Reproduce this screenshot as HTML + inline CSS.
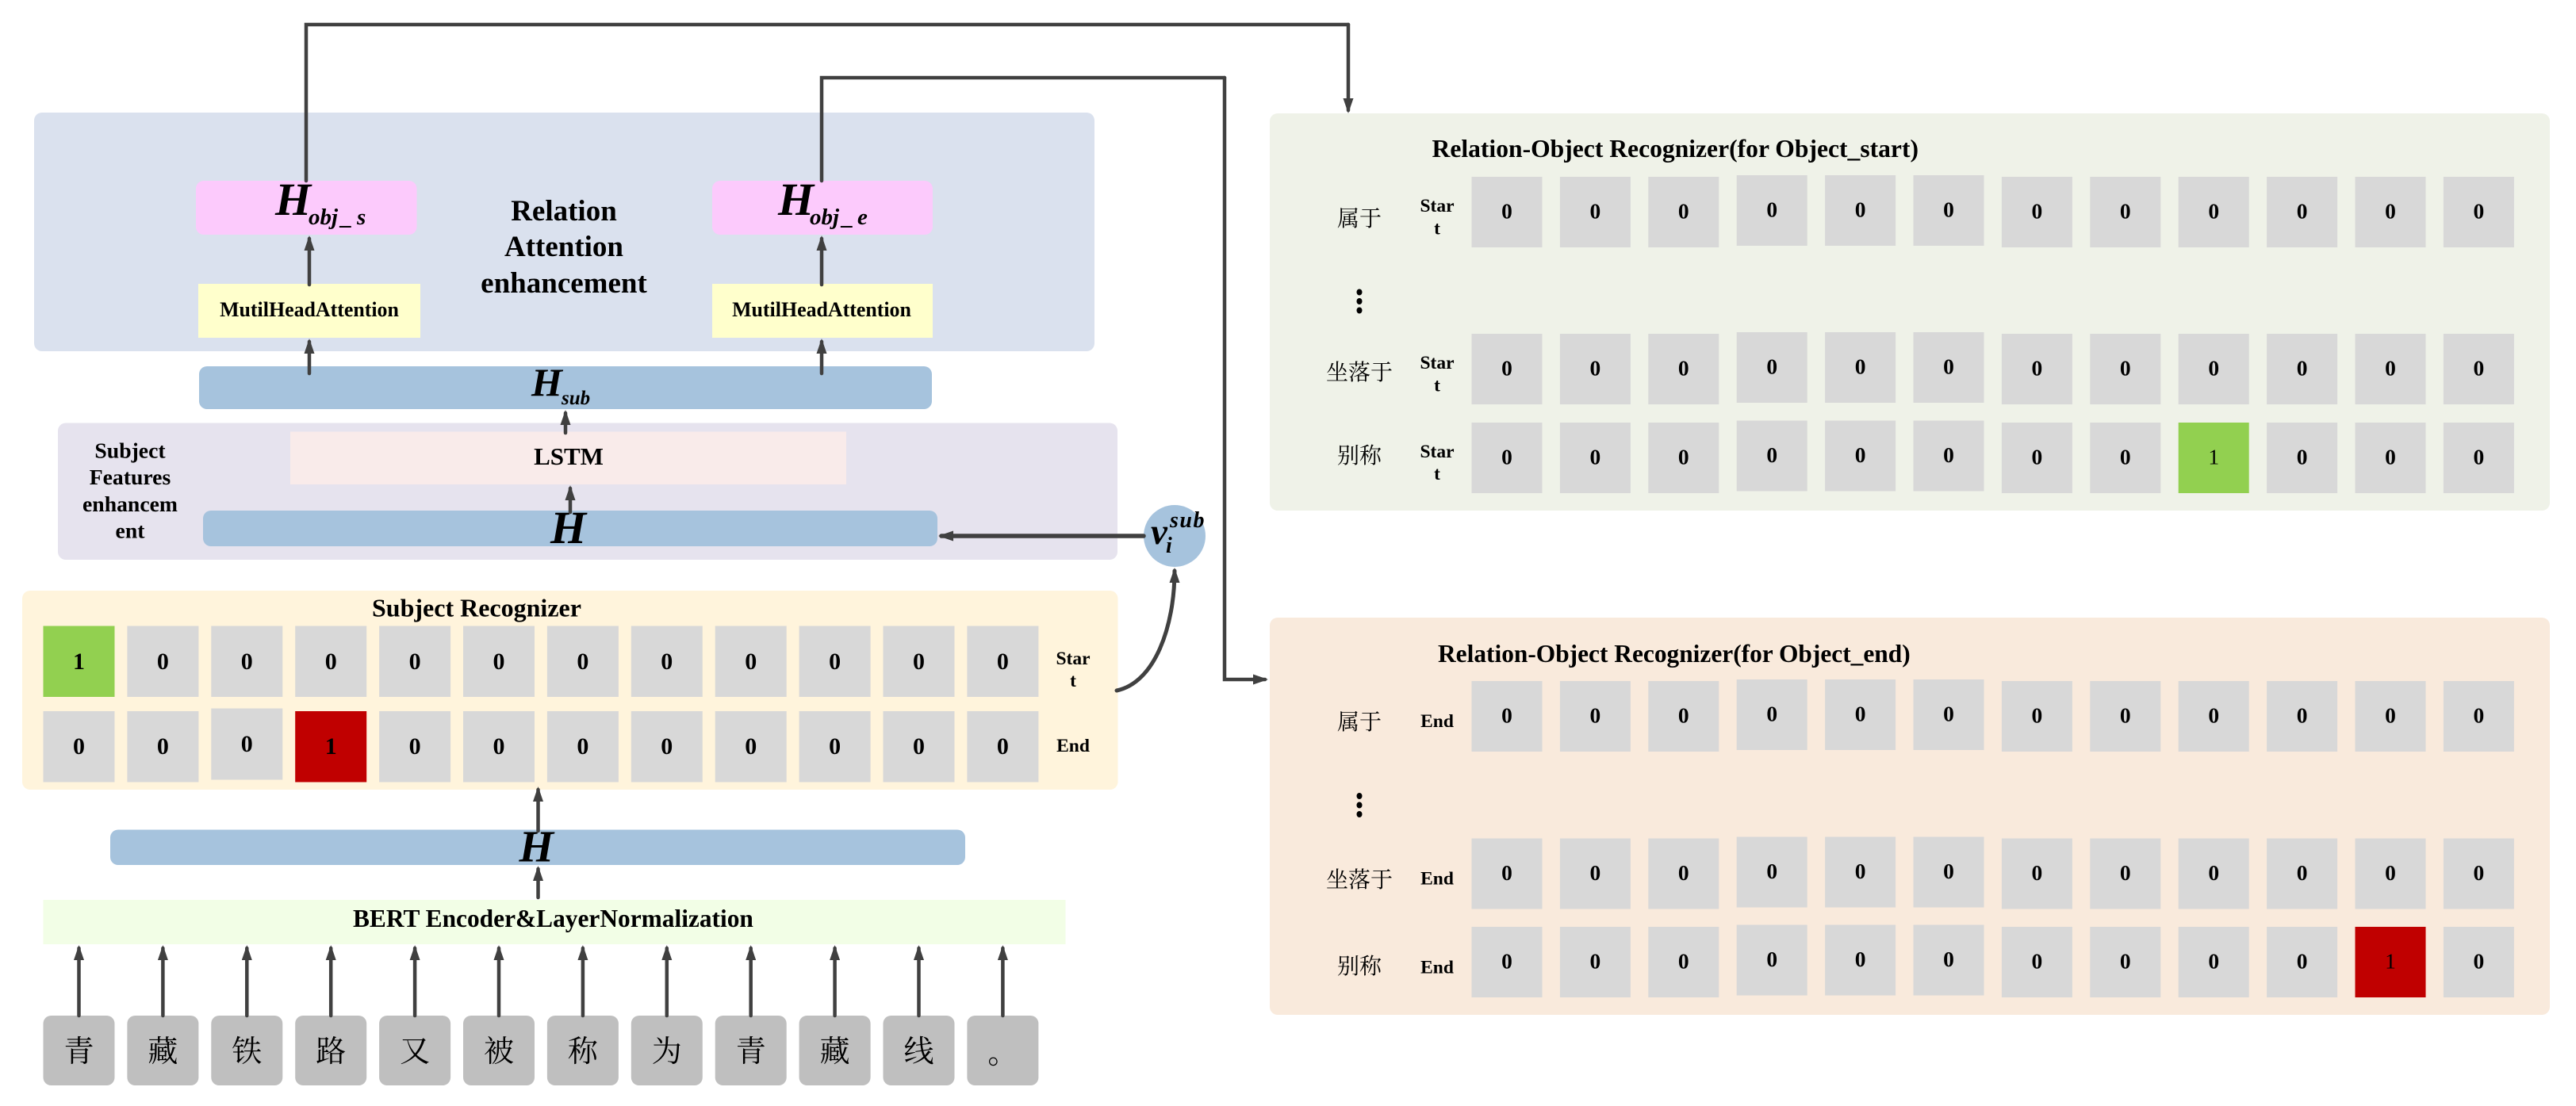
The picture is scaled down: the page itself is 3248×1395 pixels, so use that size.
<!DOCTYPE html>
<html lang="zh"><head><meta charset="utf-8"><title>Diagram</title>
<style>
html,body{margin:0;padding:0;background:#fff}
svg{display:block}
text{font-family:"Liberation Serif","Noto Serif CJK SC",serif;font-weight:bold;fill:#000}
.c{text-anchor:middle}
.z{font-size:27.5px;text-anchor:middle}
.y{font-size:30px;text-anchor:middle}
.l{font-size:23.5px;text-anchor:middle}
.t{font-size:31.4px}
.k{font-size:28px;font-weight:normal;text-anchor:middle;font-family:"Noto Serif CJK SC","Liberation Serif",serif}
.w{font-size:37px;text-anchor:middle}
.m{font-style:italic}
.tk{font-size:38px;font-weight:normal;text-anchor:middle;font-family:"Noto Serif CJK SC","Liberation Serif",serif}
.a{fill:none;stroke:#404040;stroke-width:4.5;stroke-linecap:round;stroke-linejoin:miter;marker-end:url(#ah)}
.cl{fill:#d8d8d8}
</style></head><body>
<svg xmlns="http://www.w3.org/2000/svg" width="3248" height="1395" viewBox="0 0 3248 1395">
<defs><marker id="ah" markerUnits="userSpaceOnUse" viewBox="0 0 19 13" refX="15" refY="6.5" markerWidth="19" markerHeight="13" orient="auto"><path d="M0 0L19 6.5L0 13z" fill="#404040"/></marker></defs>
<rect width="3248" height="1395" fill="#fff"/>

<!-- panels -->
<rect x="43" y="142" width="1337" height="301" rx="10" fill="#dae1ee"/>
<rect x="73" y="533.5" width="1336" height="172.5" rx="10" fill="#e6e3ee"/>
<rect x="28" y="745" width="1381.5" height="251" rx="10" fill="#fff4dc"/>
<rect x="1601" y="143" width="1614" height="501" rx="10" fill="#eff2e8"/>
<rect x="1601" y="779" width="1614" height="501" rx="10" fill="#f9eadc"/>

<!-- relation attention -->
<rect x="247" y="228" width="278.500" height="68" rx="10" fill="#fccafc"/>
<rect x="898" y="228" width="278" height="68" rx="10" fill="#fccafc"/>
<rect x="250" y="358" width="280" height="68" fill="#ffffcc"/>
<rect x="898" y="358" width="278" height="68" fill="#ffffcc"/>
<text class="m" font-size="58" x="347" y="271">H</text>
<text class="m" font-size="29" x="389" y="283">obj</text><text class="m" font-size="29" x="430" y="283">_</text><text class="m" font-size="29" x="450" y="283">s</text>
<text class="m" font-size="58" x="981" y="271">H</text>
<text class="m" font-size="29" x="1021" y="283">obj</text><text class="m" font-size="29" x="1062" y="283">_</text><text class="m" font-size="29" x="1081" y="283">e</text>
<text class="c" font-size="25.9" x="390" y="399">MutilHeadAttention</text>
<text class="c" font-size="25.9" x="1036" y="399">MutilHeadAttention</text>
<text class="w" x="711" y="278">Relation</text>
<text class="w" x="711" y="323">Attention</text>
<text class="w" x="711" y="369">enhancement</text>

<!-- H sub -->
<rect x="251" y="462" width="924" height="54" rx="10" fill="#a6c3dd"/>
<text class="m" font-size="50" x="670" y="499">H</text>
<text class="m" font-size="25" x="708" y="510">sub</text>

<!-- subject features -->
<rect x="366" y="544.500" width="701" height="66.500" fill="#f9ebea"/>
<text class="c" font-size="31" x="717" y="586">LSTM</text>
<rect x="256" y="644" width="926" height="45" rx="10" fill="#a6c3dd"/>
<text class="m" font-size="58" x="694" y="685">H</text>
<g font-size="27.700">
<text class="c" font-size="27.700" x="164" y="577.500">Subject</text>
<text class="c" font-size="27.700" x="164" y="611">Features</text>
<text class="c" font-size="27.700" x="164" y="645">enhancem</text>
<text class="c" font-size="27.700" x="164" y="678.500">ent</text>
</g>

<!-- circle -->
<circle cx="1481" cy="676" r="39" fill="#a6c3dd"/>
<text class="m" font-size="47" x="1451" y="686">v</text>
<text class="m" font-size="28" letter-spacing="1.500" x="1475" y="665">sub</text>
<text class="m" font-size="28" x="1470" y="697">i</text>

<!-- subject recognizer -->
<text class="t" font-size="32" x="469" y="777.500" style="font-size:32px">Subject Recognizer</text>
<g>
<rect x="54.500" y="789.500" width="90" height="89.500" fill="#92d050"/>
<rect class="cl" x="160.400" y="789.500" width="90" height="89.500"/>
<rect class="cl" x="266.300" y="789.500" width="90" height="89.500"/>
<rect class="cl" x="372.200" y="789.500" width="90" height="89.500"/>
<rect class="cl" x="478.100" y="789.500" width="90" height="89.500"/>
<rect class="cl" x="584" y="789.500" width="90" height="89.500"/>
<rect class="cl" x="689.900" y="789.500" width="90" height="89.500"/>
<rect class="cl" x="795.800" y="789.500" width="90" height="89.500"/>
<rect class="cl" x="901.700" y="789.500" width="90" height="89.500"/>
<rect class="cl" x="1007.600" y="789.500" width="90" height="89.500"/>
<rect class="cl" x="1113.500" y="789.500" width="90" height="89.500"/>
<rect class="cl" x="1219.400" y="789.500" width="90" height="89.500"/>
<text class="y" x="99.500" y="844">1</text><text class="y" x="205.400" y="844">0</text><text class="y" x="311.300" y="844">0</text><text class="y" x="417.200" y="844">0</text><text class="y" x="523.100" y="844">0</text><text class="y" x="629" y="844">0</text><text class="y" x="734.900" y="844">0</text><text class="y" x="840.800" y="844">0</text><text class="y" x="946.700" y="844">0</text><text class="y" x="1052.600" y="844">0</text><text class="y" x="1158.500" y="844">0</text><text class="y" x="1264.400" y="844">0</text>
<rect class="cl" x="54.500" y="897" width="90" height="89.500"/>
<rect class="cl" x="160.400" y="897" width="90" height="89.500"/>
<rect class="cl" x="266.300" y="893.500" width="90" height="90"/>
<rect x="372.200" y="897" width="90" height="89.500" fill="#c00000"/>
<rect class="cl" x="478.100" y="897" width="90" height="89.500"/>
<rect class="cl" x="584" y="897" width="90" height="89.500"/>
<rect class="cl" x="689.900" y="897" width="90" height="89.500"/>
<rect class="cl" x="795.800" y="897" width="90" height="89.500"/>
<rect class="cl" x="901.700" y="897" width="90" height="89.500"/>
<rect class="cl" x="1007.600" y="897" width="90" height="89.500"/>
<rect class="cl" x="1113.500" y="897" width="90" height="89.500"/>
<rect class="cl" x="1219.400" y="897" width="90" height="89.500"/>
<text class="y" x="99.500" y="951">0</text><text class="y" x="205.400" y="951">0</text><text class="y" x="311.300" y="948">0</text><text class="y" x="417.200" y="951">1</text><text class="y" x="523.100" y="951">0</text><text class="y" x="629" y="951">0</text><text class="y" x="734.900" y="951">0</text><text class="y" x="840.800" y="951">0</text><text class="y" x="946.700" y="951">0</text><text class="y" x="1052.600" y="951">0</text><text class="y" x="1158.500" y="951">0</text><text class="y" x="1264.400" y="951">0</text>
</g>
<text class="l" x="1353" y="838">Star</text><text class="l" x="1353" y="866">t</text>
<text class="l" x="1353" y="948">End</text>

<!-- H lower, BERT -->
<rect x="139" y="1046.500" width="1078" height="44.500" rx="10" fill="#a6c3dd"/>
<text class="m" font-size="56" x="654.500" y="1086.500">H</text>
<rect x="54.500" y="1135" width="1289" height="56" fill="#f2fee6"/>
<text class="t" x="445" y="1169">BERT Encoder&amp;LayerNormalization</text>

<!-- tokens -->
<rect x="54.500" y="1281" width="90" height="88" rx="10" fill="#bfbfbf"/>
<rect x="160.400" y="1281" width="90" height="88" rx="10" fill="#bfbfbf"/>
<rect x="266.300" y="1281" width="90" height="88" rx="10" fill="#bfbfbf"/>
<rect x="372.200" y="1281" width="90" height="88" rx="10" fill="#bfbfbf"/>
<rect x="478.100" y="1281" width="90" height="88" rx="10" fill="#bfbfbf"/>
<rect x="584" y="1281" width="90" height="88" rx="10" fill="#bfbfbf"/>
<rect x="689.900" y="1281" width="90" height="88" rx="10" fill="#bfbfbf"/>
<rect x="795.800" y="1281" width="90" height="88" rx="10" fill="#bfbfbf"/>
<rect x="901.700" y="1281" width="90" height="88" rx="10" fill="#bfbfbf"/>
<rect x="1007.600" y="1281" width="90" height="88" rx="10" fill="#bfbfbf"/>
<rect x="1113.500" y="1281" width="90" height="88" rx="10" fill="#bfbfbf"/>
<rect x="1219.400" y="1281" width="90" height="88" rx="10" fill="#bfbfbf"/>
<text class="tk" x="99.500" y="1339">青</text><text class="tk" x="205.400" y="1339">藏</text><text class="tk" x="311.300" y="1339">铁</text><text class="tk" x="417.200" y="1339">路</text><text class="tk" x="523.100" y="1339">又</text><text class="tk" x="629" y="1339">被</text><text class="tk" x="734.900" y="1339">称</text><text class="tk" x="840.800" y="1339">为</text><text class="tk" x="946.700" y="1339">青</text><text class="tk" x="1052.600" y="1339">藏</text><text class="tk" x="1158.500" y="1339">线</text><text class="tk" x="1264.400" y="1341">。</text>

<!-- object start panel -->
<text class="t" x="1805.500" y="198" style="font-size:31.6px">Relation-Object Recognizer(for Object_start)</text>
<text class="k" x="1714" y="285">属于</text><text class="k" x="1714" y="479">坐落于</text><text class="k" x="1714" y="584">别称</text>
<ellipse cx="1714" cy="368.500" rx="3.500" ry="4" fill="#000"/><ellipse cx="1714" cy="380" rx="3.500" ry="4" fill="#000"/><ellipse cx="1714" cy="391.500" rx="3.500" ry="4" fill="#000"/>
<text class="l" x="1812" y="267">Star</text><text class="l" x="1812" y="295.500">t</text>
<text class="l" x="1812" y="465">Star</text><text class="l" x="1812" y="493.500">t</text>
<text class="l" x="1812" y="577">Star</text><text class="l" x="1812" y="605">t</text>
<g id="r1">
<rect class="cl" x="1855.500" y="223" width="89" height="89"/><rect class="cl" x="1966.900" y="223" width="89" height="89"/><rect class="cl" x="2078.300" y="223" width="89" height="89"/><rect class="cl" x="2189.700" y="221" width="89" height="89"/><rect class="cl" x="2301.100" y="221" width="89" height="89"/><rect class="cl" x="2412.500" y="221" width="89" height="89"/><rect class="cl" x="2523.900" y="223" width="89" height="89"/><rect class="cl" x="2635.300" y="223" width="89" height="89"/><rect class="cl" x="2746.700" y="223" width="89" height="89"/><rect class="cl" x="2858.100" y="223" width="89" height="89"/><rect class="cl" x="2969.500" y="223" width="89" height="89"/><rect class="cl" x="3080.900" y="223" width="89" height="89"/>
<text class="z" x="1900" y="275.500">0</text><text class="z" x="2011.400" y="275.500">0</text><text class="z" x="2122.800" y="275.500">0</text><text class="z" x="2234.200" y="273.500">0</text><text class="z" x="2345.600" y="273.500">0</text><text class="z" x="2457" y="273.500">0</text><text class="z" x="2568.400" y="275.500">0</text><text class="z" x="2679.800" y="275.500">0</text><text class="z" x="2791.200" y="275.500">0</text><text class="z" x="2902.600" y="275.500">0</text><text class="z" x="3014" y="275.500">0</text><text class="z" x="3125.400" y="275.500">0</text>
</g>
<g>
<rect class="cl" x="1855.500" y="421" width="89" height="89"/><rect class="cl" x="1966.900" y="421" width="89" height="89"/><rect class="cl" x="2078.300" y="421" width="89" height="89"/><rect class="cl" x="2189.700" y="419" width="89" height="89"/><rect class="cl" x="2301.100" y="419" width="89" height="89"/><rect class="cl" x="2412.500" y="419" width="89" height="89"/><rect class="cl" x="2523.900" y="421" width="89" height="89"/><rect class="cl" x="2635.300" y="421" width="89" height="89"/><rect class="cl" x="2746.700" y="421" width="89" height="89"/><rect class="cl" x="2858.100" y="421" width="89" height="89"/><rect class="cl" x="2969.500" y="421" width="89" height="89"/><rect class="cl" x="3080.900" y="421" width="89" height="89"/>
<text class="z" x="1900" y="473.500">0</text><text class="z" x="2011.400" y="473.500">0</text><text class="z" x="2122.800" y="473.500">0</text><text class="z" x="2234.200" y="471.500">0</text><text class="z" x="2345.600" y="471.500">0</text><text class="z" x="2457" y="471.500">0</text><text class="z" x="2568.400" y="473.500">0</text><text class="z" x="2679.800" y="473.500">0</text><text class="z" x="2791.200" y="473.500">0</text><text class="z" x="2902.600" y="473.500">0</text><text class="z" x="3014" y="473.500">0</text><text class="z" x="3125.400" y="473.500">0</text>
</g>
<g>
<rect class="cl" x="1855.500" y="533" width="89" height="89"/><rect class="cl" x="1966.900" y="533" width="89" height="89"/><rect class="cl" x="2078.300" y="533" width="89" height="89"/><rect class="cl" x="2189.700" y="530.500" width="89" height="89"/><rect class="cl" x="2301.100" y="530.500" width="89" height="89"/><rect class="cl" x="2412.500" y="530.500" width="89" height="89"/><rect class="cl" x="2523.900" y="533" width="89" height="89"/><rect class="cl" x="2635.300" y="533" width="89" height="89"/><rect x="2746.700" y="533" width="89" height="89" fill="#92d050"/><rect class="cl" x="2858.100" y="533" width="89" height="89"/><rect class="cl" x="2969.500" y="533" width="89" height="89"/><rect class="cl" x="3080.900" y="533" width="89" height="89"/>
<text class="z" x="1900" y="585.500">0</text><text class="z" x="2011.400" y="585.500">0</text><text class="z" x="2122.800" y="585.500">0</text><text class="z" x="2234.200" y="583">0</text><text class="z" x="2345.600" y="583">0</text><text class="z" x="2457" y="583">0</text><text class="z" x="2568.400" y="585.500">0</text><text class="z" x="2679.800" y="585.500">0</text><text class="z" x="2791.200" y="585.500" style="font-weight:normal">1</text><text class="z" x="2902.600" y="585.500">0</text><text class="z" x="3014" y="585.500">0</text><text class="z" x="3125.400" y="585.500">0</text>
</g>

<!-- object end panel -->
<text class="t" x="1813" y="835">Relation-Object Recognizer(for Object_end)</text>
<text class="k" x="1714" y="920">属于</text><text class="k" x="1714" y="1119">坐落于</text><text class="k" x="1714" y="1228">别称</text>
<ellipse cx="1714" cy="1004" rx="3.500" ry="4" fill="#000"/><ellipse cx="1714" cy="1015.500" rx="3.500" ry="4" fill="#000"/><ellipse cx="1714" cy="1027" rx="3.500" ry="4" fill="#000"/>
<text class="l" x="1812" y="917">End</text><text class="l" x="1812" y="1115.500">End</text><text class="l" x="1812" y="1227.500">End</text>
<g>
<rect class="cl" x="1855.500" y="859" width="89" height="89"/><rect class="cl" x="1966.900" y="859" width="89" height="89"/><rect class="cl" x="2078.300" y="859" width="89" height="89"/><rect class="cl" x="2189.700" y="857" width="89" height="89"/><rect class="cl" x="2301.100" y="857" width="89" height="89"/><rect class="cl" x="2412.500" y="857" width="89" height="89"/><rect class="cl" x="2523.900" y="859" width="89" height="89"/><rect class="cl" x="2635.300" y="859" width="89" height="89"/><rect class="cl" x="2746.700" y="859" width="89" height="89"/><rect class="cl" x="2858.100" y="859" width="89" height="89"/><rect class="cl" x="2969.500" y="859" width="89" height="89"/><rect class="cl" x="3080.900" y="859" width="89" height="89"/>
<text class="z" x="1900" y="911.500">0</text><text class="z" x="2011.400" y="911.500">0</text><text class="z" x="2122.800" y="911.500">0</text><text class="z" x="2234.200" y="909.500">0</text><text class="z" x="2345.600" y="909.500">0</text><text class="z" x="2457" y="909.500">0</text><text class="z" x="2568.400" y="911.500">0</text><text class="z" x="2679.800" y="911.500">0</text><text class="z" x="2791.200" y="911.500">0</text><text class="z" x="2902.600" y="911.500">0</text><text class="z" x="3014" y="911.500">0</text><text class="z" x="3125.400" y="911.500">0</text>
</g>
<g>
<rect class="cl" x="1855.500" y="1057.500" width="89" height="89"/><rect class="cl" x="1966.900" y="1057.500" width="89" height="89"/><rect class="cl" x="2078.300" y="1057.500" width="89" height="89"/><rect class="cl" x="2189.700" y="1055.500" width="89" height="89"/><rect class="cl" x="2301.100" y="1055.500" width="89" height="89"/><rect class="cl" x="2412.500" y="1055.500" width="89" height="89"/><rect class="cl" x="2523.900" y="1057.500" width="89" height="89"/><rect class="cl" x="2635.300" y="1057.500" width="89" height="89"/><rect class="cl" x="2746.700" y="1057.500" width="89" height="89"/><rect class="cl" x="2858.100" y="1057.500" width="89" height="89"/><rect class="cl" x="2969.500" y="1057.500" width="89" height="89"/><rect class="cl" x="3080.900" y="1057.500" width="89" height="89"/>
<text class="z" x="1900" y="1110">0</text><text class="z" x="2011.400" y="1110">0</text><text class="z" x="2122.800" y="1110">0</text><text class="z" x="2234.200" y="1108">0</text><text class="z" x="2345.600" y="1108">0</text><text class="z" x="2457" y="1108">0</text><text class="z" x="2568.400" y="1110">0</text><text class="z" x="2679.800" y="1110">0</text><text class="z" x="2791.200" y="1110">0</text><text class="z" x="2902.600" y="1110">0</text><text class="z" x="3014" y="1110">0</text><text class="z" x="3125.400" y="1110">0</text>
</g>
<g>
<rect class="cl" x="1855.500" y="1169" width="89" height="89"/><rect class="cl" x="1966.900" y="1169" width="89" height="89"/><rect class="cl" x="2078.300" y="1169" width="89" height="89"/><rect class="cl" x="2189.700" y="1166.500" width="89" height="89"/><rect class="cl" x="2301.100" y="1166.500" width="89" height="89"/><rect class="cl" x="2412.500" y="1166.500" width="89" height="89"/><rect class="cl" x="2523.900" y="1169" width="89" height="89"/><rect class="cl" x="2635.300" y="1169" width="89" height="89"/><rect class="cl" x="2746.700" y="1169" width="89" height="89"/><rect class="cl" x="2858.100" y="1169" width="89" height="89"/><rect x="2969.500" y="1169" width="89" height="89" fill="#c00000"/><rect class="cl" x="3080.900" y="1169" width="89" height="89"/>
<text class="z" x="1900" y="1221.500">0</text><text class="z" x="2011.400" y="1221.500">0</text><text class="z" x="2122.800" y="1221.500">0</text><text class="z" x="2234.200" y="1219">0</text><text class="z" x="2345.600" y="1219">0</text><text class="z" x="2457" y="1219">0</text><text class="z" x="2568.400" y="1221.500">0</text><text class="z" x="2679.800" y="1221.500">0</text><text class="z" x="2791.200" y="1221.500">0</text><text class="z" x="2902.600" y="1221.500">0</text><text class="z" x="3014" y="1221.500" style="font-weight:normal">1</text><text class="z" x="3125.400" y="1221.500">0</text>
</g>

<!-- connectors -->
<path class="a" style="marker-end:none" d="M386 228V31H1700"/>
<path class="a" d="M1700 31V139"/>
<path class="a" style="marker-end:none" d="M1036 228V98H1544"/>
<path class="a" d="M1544 98V857H1595"/>
<path class="a" d="M390 359V301"/>
<path class="a" d="M1036 359V301"/>
<path class="a" d="M390 471V431"/>
<path class="a" d="M1036 471V431"/>
<path class="a" d="M713 546V521"/>
<path class="a" d="M719 646V616"/>
<path class="a" style="stroke-width:5.500" d="M1442 676H1187"/>
<path class="a" style="stroke-width:5" d="M1408 871C1456 861 1481 790 1481 720"/>
<path class="a" d="M678.500 1048V996"/>
<path class="a" d="M678.500 1132V1096"/>
<path class="a" d="M99.500 1281V1196"/><path class="a" d="M205.400 1281V1196"/><path class="a" d="M311.300 1281V1196"/><path class="a" d="M417.200 1281V1196"/><path class="a" d="M523.100 1281V1196"/><path class="a" d="M629 1281V1196"/><path class="a" d="M734.900 1281V1196"/><path class="a" d="M840.800 1281V1196"/><path class="a" d="M946.700 1281V1196"/><path class="a" d="M1052.600 1281V1196"/><path class="a" d="M1158.500 1281V1196"/><path class="a" d="M1264.400 1281V1196"/>
</svg>
</body></html>
